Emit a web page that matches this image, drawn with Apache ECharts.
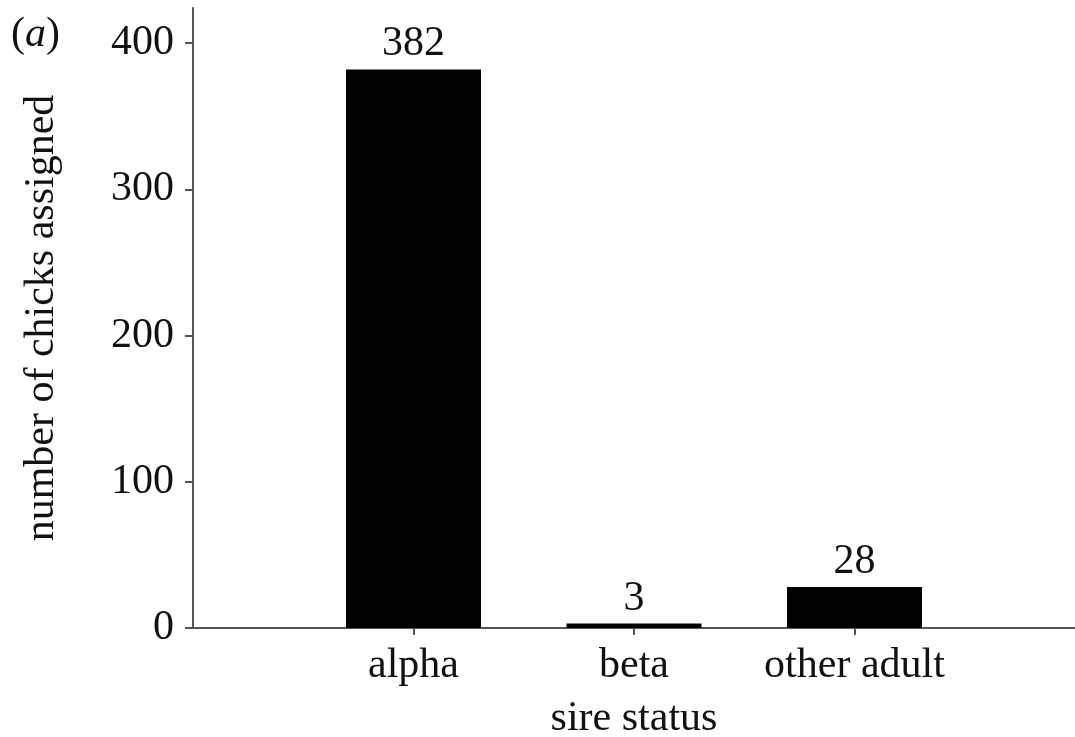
<!DOCTYPE html>
<html>
<head>
<meta charset="utf-8">
<script src="https://cdn.jsdelivr.net/npm/echarts@6/dist/echarts.min.js"></script>
<style>
html,body{margin:0;padding:0;background:#fff;}
#chart{width:1075px;height:737px;}
</style>
</head>
<body>
<div id="chart"></div>
<script>
const categories = ['alpha', 'beta', 'other adult'];
const chickCounts = [382, 3, 28];
const yTicks = [0, 100, 200, 300, 400];
const yAxisTitle = 'number of chicks assigned';
const xAxisTitle = 'sire status';
const panelLabel = 'a';

const FONT = '"Liberation Serif", "DejaVu Serif", serif';
const TXT = '#111';
const AXIS = '#555';
const FS = 42;

const chart = echarts.init(document.getElementById('chart'), null, {renderer: 'canvas'});
const positions = categories.map((c, i) => i + 1);

chart.setOption({
  animation: false,
  backgroundColor: '#fff',
  textStyle: {fontFamily: FONT},
  title: {
    text: '{p|(}{i|' + panelLabel + '}{p|)}',
    left: 6, top: 9,
    textStyle: {
      fontWeight: 'normal',
      rich: {
        p: {fontFamily: FONT, fontSize: FS, fontWeight: 'normal', color: TXT},
        i: {fontFamily: FONT, fontSize: FS, fontStyle: 'italic', fontWeight: 'normal', color: TXT}
      }
    }
  },
  grid: {left: 193, right: 0, top: 8, bottom: 109, containLabel: false, outerBoundsMode: 'none'},
  xAxis: {
    type: 'value',
    min: 0, max: categories.length + 1,
    name: xAxisTitle,
    nameLocation: 'middle',
    nameGap: 70,
    nameTextStyle: {fontFamily: FONT, fontSize: FS, color: TXT},
    axisLine: {show: true, lineStyle: {color: AXIS, width: 2}},
    axisTick: {show: true, length: 7, customValues: positions, lineStyle: {color: AXIS, width: 2}},
    axisLabel: {
      customValues: positions,
      formatter: v => categories[Math.round(v) - 1] || '',
      fontFamily: FONT, fontSize: FS, color: TXT, margin: 17
    },
    splitLine: {show: false}
  },
  yAxis: {
    type: 'value',
    min: 0, max: 424,
    name: yAxisTitle,
    nameLocation: 'middle',
    nameGap: 130,
    nameTextStyle: {fontFamily: FONT, fontSize: FS, color: TXT},
    axisLine: {show: true, lineStyle: {color: AXIS, width: 2}},
    axisTick: {show: true, length: 8, customValues: yTicks, lineStyle: {color: AXIS, width: 2}},
    axisLabel: {
      customValues: yTicks,
      fontFamily: FONT, fontSize: FS, color: TXT, margin: 19
    },
    splitLine: {show: false}
  },
  series: [{
    type: 'bar',
    data: chickCounts.map((v, i) => [positions[i], v]),
    barWidth: 135,
    itemStyle: {color: '#000'},
    label: {
      show: true, position: 'top', distance: 4,
      fontFamily: FONT, fontSize: FS, color: TXT
    }
  }]
});
</script>
</body>
</html>
